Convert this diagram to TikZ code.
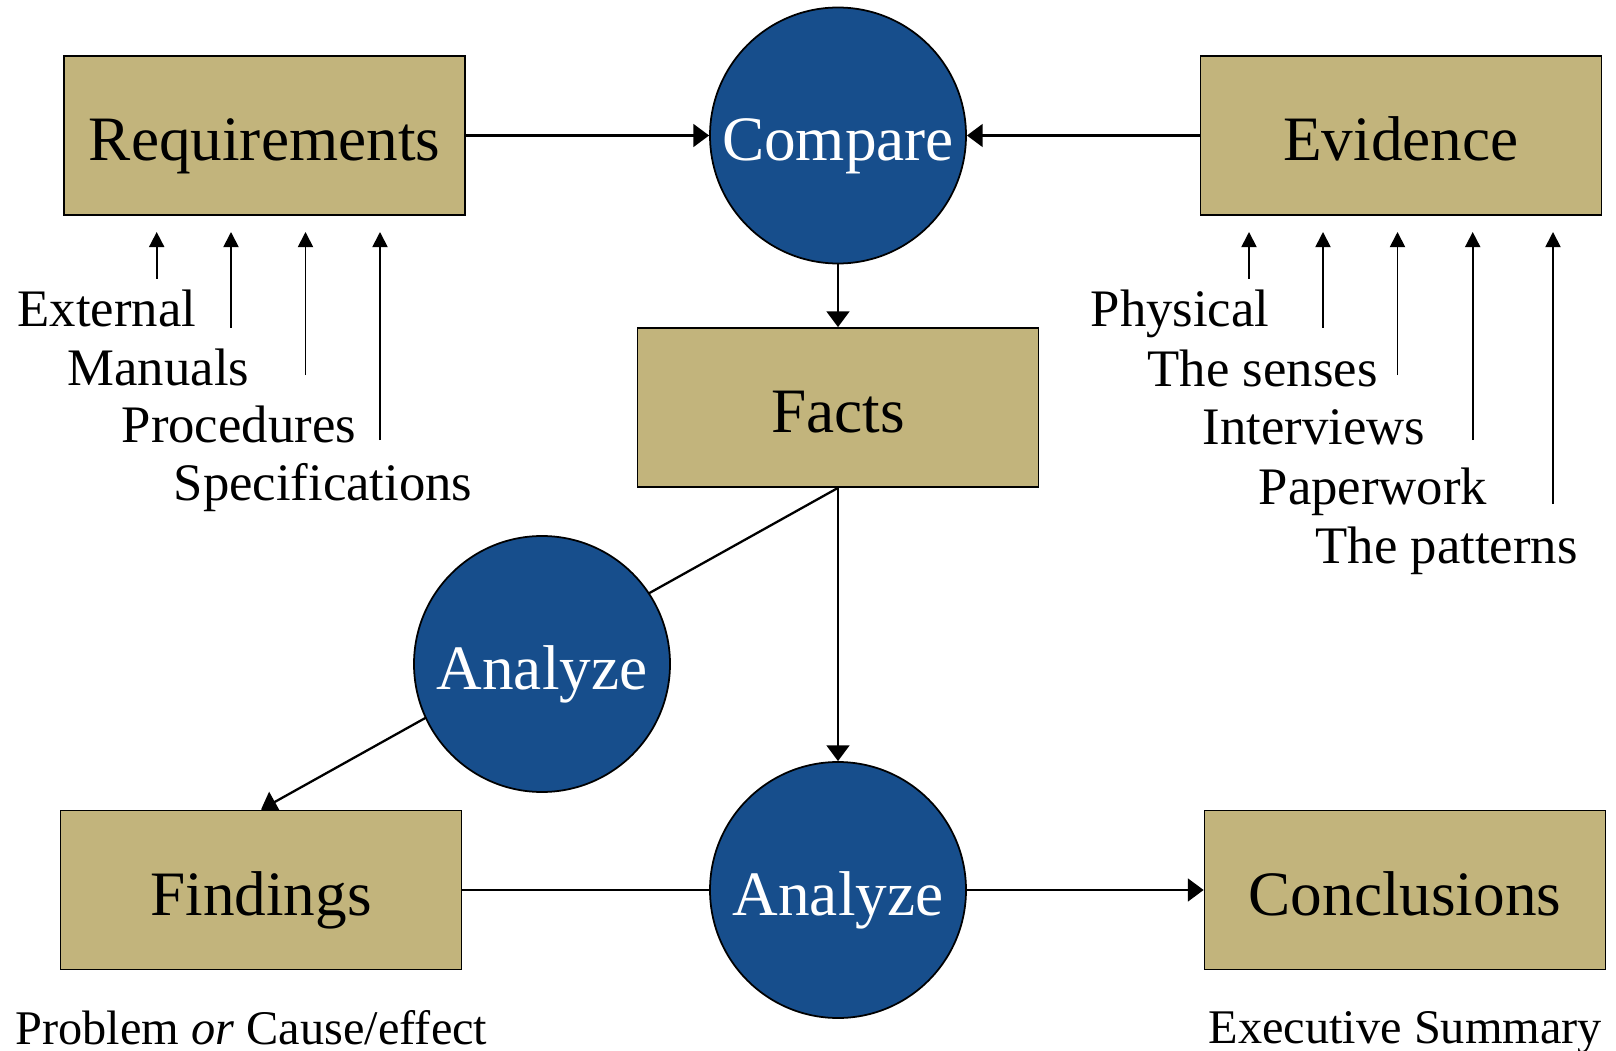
\documentclass[tikz,border=0pt]{standalone}
\usepackage{fontspec}
\setmainfont{Liberation Serif}
\usepackage{tikz}
\usetikzlibrary{
  arrows.meta,backgrounds
}
\definecolor{boxtan}{RGB}{194,180,124}
\definecolor{discblue}{RGB}{23,78,140}

\begin{document}
\begin{tikzpicture}[
    box/.style={draw,line width=.5pt,fill=boxtan,minimum width=4.01cm,minimum height=1.59cm,inner sep=0pt,text height=14.4pt,text depth=0pt,font=\fontsize{18}{22}\selectfont},
    disc/.style={circle,draw,line width=.5pt,fill=discblue,text=white,minimum size=2.56cm,inner sep=0pt,text height=14.4pt,text depth=0pt,font=\fontsize{18}{22}\selectfont},
    flow/.style={line width=.65pt,-{Triangle[length=4.5pt,width=6.5pt]}},
    feeder/.style={line width=.5pt,-{Triangle[length=4.3pt,width=4.3pt]}},
    lbl/.style={anchor=base west,inner sep=0pt,font=\fontsize{15}{18}\selectfont},
    note/.style={anchor=base west,inner sep=0pt,font=\fontsize{13.75}{17}\selectfont}
  ]
    \useasboundingbox (0,0) rectangle (16.16,-10.51);

    % boxes and discs
    \node[box] (req) at (2.645,-1.355) {Requirements};
    \node[box] (evid) at (14.01,-1.355) {Evidence};
    \node[box] (facts) at (8.38,-4.075) {Facts};
    \node[box] (find) at (2.61,-8.90) {Findings};
    \node[box] (concl) at (14.05,-8.90) {Conclusions};
    \node[disc] (cmp) at (8.38,-1.355) {Compare};
    \node[disc] (anA) at (5.42,-6.64) {Analyze};
    \node[disc] (anB) at (8.38,-8.90) {Analyze};

    \draw[flow] (req) -- (cmp);
    \draw[flow] (evid) -- (cmp);
    \draw[flow] (cmp) -- (facts);
    \draw[flow] (facts.south) -- (anB.north);
    \begin{scope}[on background layer]
      \draw[flow] (facts.south) -- (find.north);
      \draw[flow] (find) -- (concl);
    \end{scope}

    % sources of the requirements
    \node[lbl] (ext) at (0.17,-3.27) {External};
    \node[lbl] (man) at (0.67,-3.855) {Manuals};
    \node[lbl] (proc) at (1.21,-4.43) {Procedures};
    \node[lbl] (spec) at (1.73,-5.01) {Specifications};
    \coordinate (ext1) at (1.567,-2.79);  \coordinate (ext2) at (1.567,-2.32);
    \coordinate (man1) at (2.31,-3.28);   \coordinate (man2) at (2.31,-2.32);
    \coordinate (proc1) at (3.055,-3.75); \coordinate (proc2) at (3.055,-2.32);
    \coordinate (spec1) at (3.80,-4.40);  \coordinate (spec2) at (3.80,-2.32);
    \draw[feeder] (ext1) -- (ext2);
    \draw[feeder] (man1) -- (man2);
    \draw[feeder] (proc1) -- (proc2);
    \draw[feeder] (spec1) -- (spec2);

    % sources of the evidence
    \node[lbl] (phys) at (10.90,-3.27) {Physical};
    \node[lbl] (sens) at (11.47,-3.86) {The senses};
    \node[lbl] (intv) at (12.02,-4.45) {Interviews};
    \node[lbl] (papr) at (12.58,-5.04) {Paperwork};
    \node[lbl] (patt) at (13.15,-5.63) {The patterns};
    \coordinate (phys1) at (12.49,-2.79);  \coordinate (phys2) at (12.49,-2.32);
    \coordinate (sens1) at (13.23,-3.28);  \coordinate (sens2) at (13.23,-2.32);
    \coordinate (intv1) at (13.975,-3.75); \coordinate (intv2) at (13.975,-2.32);
    \coordinate (papr1) at (14.727,-4.40); \coordinate (papr2) at (14.727,-2.32);
    \coordinate (patt1) at (15.53,-5.04);  \coordinate (patt2) at (15.53,-2.32);
    \draw[feeder] (phys1) -- (phys2);
    \draw[feeder] (sens1) -- (sens2);
    \draw[feeder] (intv1) -- (intv2);
    \draw[feeder] (papr1) -- (papr2);
    \draw[feeder] (patt1) -- (patt2);

    \node[note] (prob) at (0.15,-10.44) {Problem \textit{or} Cause/effect};
    \node[note] (exec) at (12.08,-10.43) {Executive Summary};
  \end{tikzpicture}
\end{document}
